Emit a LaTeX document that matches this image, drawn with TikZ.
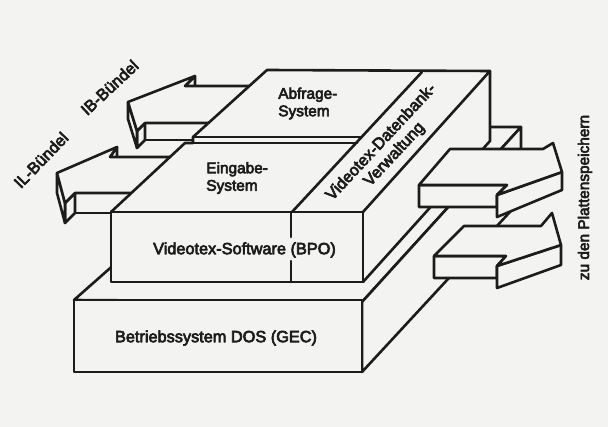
\documentclass[tikz,border=0pt]{standalone}
\usepackage{fontspec}
\setmainfont{Liberation Sans}
\newfontfamily\labfont{Liberation Sans}[FakeBold=4]
\definecolor{paper}{RGB}{243,243,241}
\definecolor{ink}{RGB}{28,28,28}
\begin{document}
\begin{tikzpicture}[x=1pt,y=-1pt,line width=2.6pt,line join=round,line cap=round,
  ln/.style={draw=ink},
  face/.style={fill=paper,draw=ink},
  lbl/.style={font=\labfont\fontsize{16.3}{18}\selectfont,text=ink,inner sep=0pt},
  slbl/.style={font=\labfont\fontsize{15.4}{17.5}\selectfont,text=ink,inner sep=0pt}]
\fill[paper] (0,0) rectangle (608,427);
\useasboundingbox (0,0) rectangle (608,427);
% ---------- lower box (Betriebssystem) ----------
\filldraw[face] (74,300) -- (270,127) -- (521,127) -- (362,302) -- cycle;
\filldraw[face] (362,302) -- (521,127) -- (521,200) -- (362,372) -- cycle;
\filldraw[face] (74,300) rectangle (362,372);
% ---------- left arrows ----------
% IL arrow
\filldraw[face] (110,157) -- (117,147) -- (117,167) -- (110,177) -- cycle;
\filldraw[face] (75,193) rectangle (140,213);
\filldraw[face] (75,193) -- (65,203) -- (65,223) -- (75,213) -- cycle;
\filldraw[face] (57,173) -- (65,203) -- (65,223) -- (57,193) -- cycle;
\filldraw[face] (57,173) -- (65,203) -- (75,193) -- (140,193) -- (176,157) -- (110,157) -- (117,147) -- cycle;
% IB arrow
\filldraw[face] (185,86) -- (195,76) -- (195,93) -- (185,103) -- cycle;
\filldraw[face] (145,123) rectangle (214,140);
\filldraw[face] (145,123) -- (137,131) -- (137,148) -- (145,140) -- cycle;
\filldraw[face] (128,102) -- (137,131) -- (137,148) -- (128,119) -- cycle;
\filldraw[face] (128,102) -- (137,131) -- (145,123) -- (214,123) -- (254,86) -- (185,86) -- (195,76) -- cycle;
% ---------- upper box ----------
\fill[paper] (111,282) -- (111,212) -- (185,143) -- (193,143) -- (193,137) -- (267,70)
  -- (490,71) -- (490,141) -- (363,282) -- cycle;
\draw[ln] (111,212) rectangle (363,282);
\draw[ln] (291,212) -- (291,237) (291,261) -- (291,282);
\draw[ln] (111,212) -- (185,143) -- (193,143) -- (193,137) -- (267,70) -- (490,71) -- (363,212);
\draw[ln] (185,143) -- (357,143);
\draw[ln] (193,137) -- (362,137);
\draw[ln] (422,72) -- (292,212);
\draw[ln] (490,71) -- (490,141) -- (363,282);
% ---------- right arrows ----------
% lower
\filldraw[face] (434,256) -- (506,256) -- (497,266) -- (497,278) -- (434,278) -- cycle;
\filldraw[face] (497,266) -- (561,245) -- (561,265) -- (497,288) -- cycle;
\filldraw[face] (434,256) -- (464,226) -- (541,226) -- (552,213) -- (561,245) -- (497,266) -- (506,256) -- cycle;
% upper
\filldraw[face] (419,185) -- (507,185) -- (497,195) -- (497,207) -- (419,207) -- cycle;
\filldraw[face] (497,195) -- (562,172) -- (562,190) -- (497,217) -- cycle;
\filldraw[face] (419,185) -- (450,149) -- (543,149) -- (553,143) -- (562,172) -- (497,195) -- (507,185) -- cycle;
% ---------- labels ----------
\node[slbl,align=left,anchor=west] (abf) at (277,103.5) {Abfrage-\\System};
\node[slbl,align=left,anchor=west] (ein) at (205,178) {Eingabe-\\System};
\node[lbl] (vsw) at (244.5,250) {Videotex-Software (BPO)};
\node[lbl] (bs) at (216,338) {Betriebssystem DOS (GEC)};
\node[lbl,align=center,rotate=47] (vdb) at (388,148.5) {Videotex-Datenbank-\\Verwaltung};
\node[lbl,rotate=43] (ib) at (109.5,87.5) {IB-Bündel};
\node[lbl,rotate=46] (il) at (41,160) {IL-Bündel};
\node[slbl,rotate=90] (zu) at (585,197.5) {zu den Plattenspeichern};
\end{tikzpicture}
\end{document}
